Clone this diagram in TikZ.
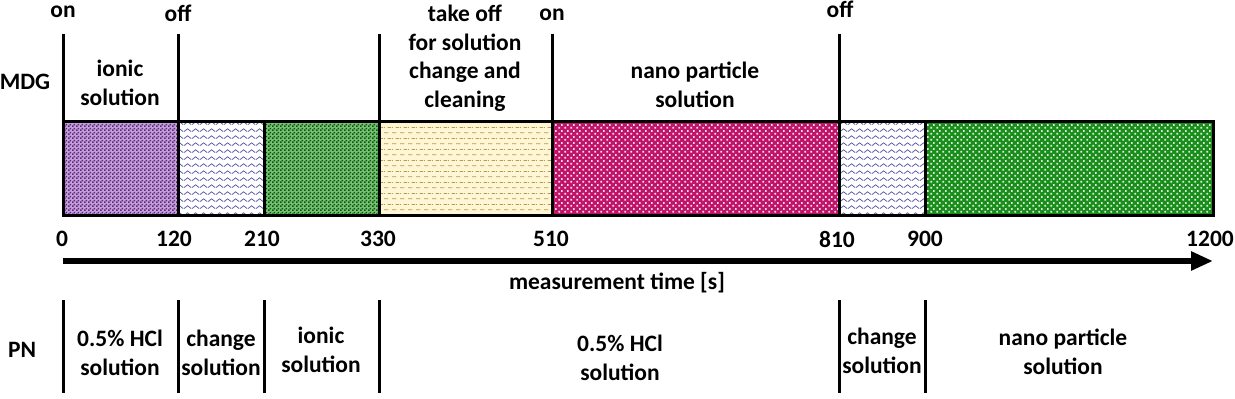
\documentclass[tikz,border=0pt]{standalone}
\usepackage{fontspec}
\setmainfont{Carlito}
\usetikzlibrary{arrows.meta, patterns.meta, positioning}

\definecolor{ionicfill}{HTML}{BFA2DE}
\definecolor{ionicdark}{HTML}{6A2278}
\definecolor{wavecol}{HTML}{5A5AA8}
\definecolor{greenfill}{HTML}{78C078}
\definecolor{greendark}{HTML}{055A05}
\definecolor{cleanfill}{HTML}{FFF6D5}
\definecolor{cleandash}{HTML}{B39B50}
\definecolor{nanored}{HTML}{C0146A}
\definecolor{nanogreen}{HTML}{1A8E1A}

% fill patterns of the time segments
\tikzdeclarepattern{
	name=finechecker,
	type=uncolored,
	bounding box={(0pt,0pt) and (4pt,4pt)},
	tile size={(4pt,4pt)},
	code={
		\fill (0pt,0pt) rectangle (2pt,2pt);
		\fill (2pt,2pt) rectangle (4pt,4pt);
	}
}
\tikzdeclarepattern{
	name=zigzag,
	type=uncolored,
	bounding box={(0pt,0pt) and (8pt,6.5pt)},
	tile size={(8pt,6.5pt)},
	code={
		\draw[line width=0.8pt] (0pt,1.5pt) -- (4pt,4.5pt) -- (8pt,1.5pt);
	}
}
\tikzdeclarepattern{
	name=dashrows,
	type=uncolored,
	bounding box={(0pt,0pt) and (8pt,11pt)},
	tile size={(8pt,11pt)},
	code={
		\draw[line width=0.8pt] (0pt,2.5pt) -- (5pt,2.5pt);
		\draw[line width=0.8pt] (4pt,8pt) -- (8pt,8pt);
		\draw[line width=0.8pt] (0pt,8pt) -- (1pt,8pt);
	}
}
\tikzdeclarepattern{
	name=dotgrid,
	type=uncolored,
	bounding box={(0pt,0pt) and (6pt,6pt)},
	tile size={(6pt,6pt)},
	code={
		\fill (0.5pt,0.5pt) rectangle (2.5pt,2.5pt);
		\fill (3.5pt,3.5pt) rectangle (5.5pt,5.5pt);
	}
}

\tikzset{
	seg/.style={draw, line width=3pt, minimum height=94pt, inner sep=0pt, outer sep=0pt},
	ionicseg/.style={seg, preaction={fill=ionicfill}, pattern=finechecker, pattern color=ionicdark},
	changeseg/.style={seg, preaction={fill=white}, pattern=zigzag, pattern color=wavecol},
	greenseg/.style={seg, preaction={fill=greenfill}, pattern=finechecker, pattern color=greendark},
	cleanseg/.style={seg, preaction={fill=cleanfill}, pattern=dashrows, pattern color=cleandash},
	nanoseg/.style={seg, preaction={fill=nanored}, pattern=dotgrid, pattern color=white!85!nanored},
	npseg/.style={seg, preaction={fill=nanogreen}, pattern=dotgrid, pattern color=white!85!nanogreen},
	marker/.style={line width=3pt},
	% text labels
	lbl/.style={align=center, inner sep=0pt, font=\fontsize{23.5}{28.5}\selectfont\bfseries},
	switch/.style={lbl, anchor=base},
}

\begin{document}
\begin{tikzpicture}[x=1pt, y=-1pt]
	\useasboundingbox (0,0) rectangle (1235,399);
	
	% MDG segments
	\node (m1) [ionicseg, minimum width=115pt, anchor=north west] at (63,121) {};
	\node (m2) [changeseg, minimum width=86pt, right=0pt of m1] {};
	\node (m3) [greenseg, minimum width=115pt, right=0pt of m2] {};
	\node (m4) [cleanseg, minimum width=173pt, right=0pt of m3] {};
	\node (m5) [nanoseg, minimum width=287pt, right=0pt of m4] {};
	\node (m6) [changeseg, minimum width=86pt, right=0pt of m5] {};
	\node (m7) [npseg, minimum width=288pt, right=0pt of m6] {};
	
	\draw[marker] (m1.north west) -- ++(0,-87);
	\draw[marker] (m2.north west) -- ++(0,-87);
	\draw[marker] (m4.north west) -- ++(0,-87);
	\draw[marker] (m5.north west) -- ++(0,-87);
	\draw[marker] (m6.north west) -- ++(0,-87);
	
	\node (on1) [switch] at (63,17) {on};
	\node (off1) [switch] at (178,21) {off};
	\node (on2) [switch] at (552,20) {on};
	\node (off2) [switch] at (840,17) {off};
	
	\node (mdg) [lbl] at (25,82) {MDG};
	\node (mdgionic) [lbl] at (120,83) {ionic\\solution};
	\node (takeoff) [lbl] at (465,58) {take off\\for solution\\change and\\cleaning};
	\node (mdgnano) [lbl] at (695,85) {nano particle\\solution};
	
	% time axis
	\node (t0) [lbl] at (62,239) {0};
	\node (t120) [lbl] at (174,239) {120};
	\node (t210) [lbl] at (262,239) {210};
	\node (t330) [lbl] at (378,239) {330};
	\node (t510) [lbl] at (551,239) {510};
	\node (t810) [lbl] at (837,239) {810};
	\node (t900) [lbl] at (925,239) {900};
	\node (t1200) [lbl] at (1210,239) {1200};
	
	\coordinate (axstart) at (63,261);
	\coordinate (axend) at (1213,261);
	\draw[line width=6.5pt, -{Triangle[length=22pt, width=18pt]}] (axstart) -- (axend);
	\node (axlabel) [lbl] at (617,283) {measurement time [s]};
	
	% PN segments
	\coordinate (pntop) at (0,300);
	\coordinate (pnbot) at (0,393);
	\draw[marker] (m1.west |- pntop) -- (m1.west |- pnbot);
	\draw[marker] (m2.west |- pntop) -- (m2.west |- pnbot);
	\draw[marker] (m3.west |- pntop) -- (m3.west |- pnbot);
	\draw[marker] (m4.west |- pntop) -- (m4.west |- pnbot);
	\draw[marker] (m6.west |- pntop) -- (m6.west |- pnbot);
	\draw[marker] (m7.west |- pntop) -- (m7.west |- pnbot);
	
	\node (pn) [lbl] at (22,350) {PN};
	\node (pnhcl1) [lbl] at (120,353) {0.5\% HCl\\solution};
	\node (pnchange1) [lbl] at (221,353) {change\\solution};
	\node (pnionic) [lbl] at (321,350) {ionic\\solution};
	\node (pnhcl2) [lbl] at (620,358) {0.5\% HCl\\solution};
	\node (pnchange2) [lbl] at (882,351) {change\\solution};
	\node (pnnano) [lbl] at (1063,352) {nano particle\\solution};
\end{tikzpicture}
\end{document}
